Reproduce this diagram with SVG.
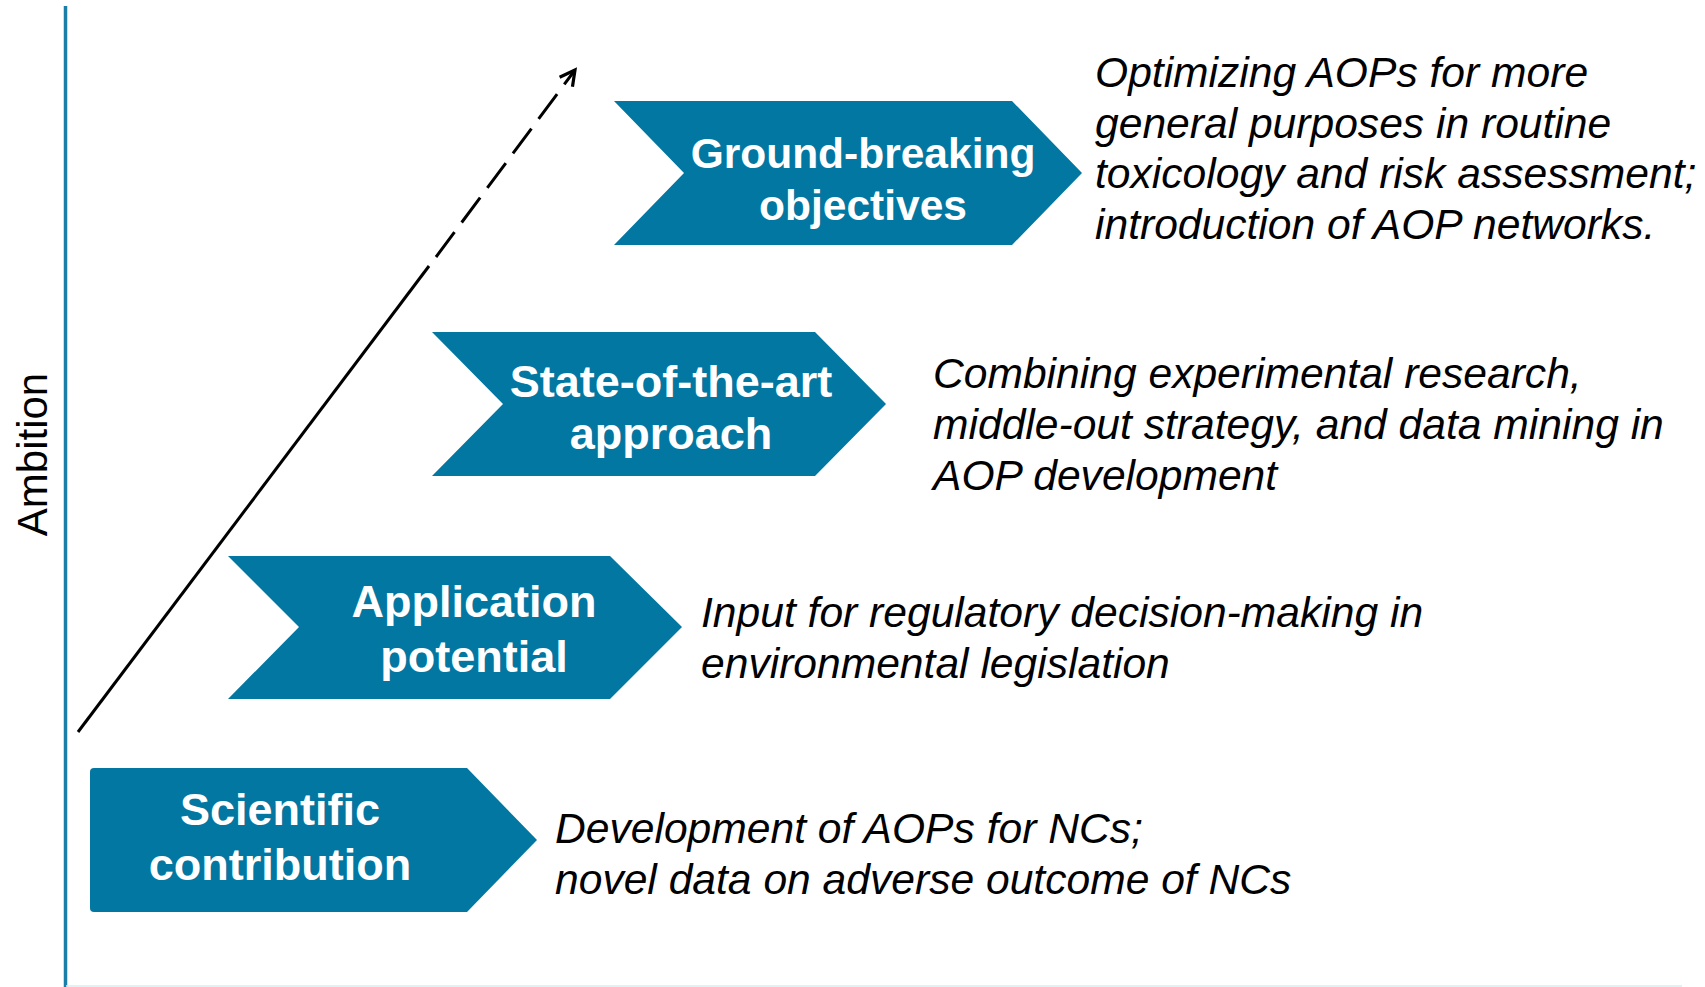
<svg xmlns="http://www.w3.org/2000/svg" width="1705" height="987" viewBox="0 0 1705 987">
  <defs>
    <style>
      .chev { fill: #0277a2; }
      .label { font-family: "Liberation Sans", Arial, sans-serif; font-weight: bold; fill: #ffffff; text-anchor: middle; }
      .desc { font-family: "Liberation Sans", Arial, sans-serif; font-style: italic; font-size: 42.6px; fill: #000000; }
      .axis { font-family: "Liberation Sans", Arial, sans-serif; font-size: 42px; fill: #000000; }
      .trend { fill: none; stroke: #000000; stroke-width: 3; stroke-linecap: butt; }
    </style>
    <marker id="openArrow" viewBox="0 0 20 20" refX="17" refY="10" markerWidth="20" markerHeight="20" markerUnits="userSpaceOnUse" orient="auto">
      <path d="M 2 2 L 17 10 L 2 18" fill="none" stroke="#000000" stroke-width="3.2" stroke-linejoin="miter"/>
    </marker>
  </defs>

  <rect width="1705" height="987" fill="#ffffff"/>

  <!-- axes -->
  <g id="axes">
    <line x1="65.5" y1="6" x2="65.5" y2="987" stroke="#1a7ea9" stroke-width="3.5"/>
    <line x1="66" y1="986" x2="1682" y2="986" stroke="#d6eef3" stroke-width="1.5"/>
    <text class="axis" transform="translate(47,454.5) rotate(-90)" text-anchor="middle">Ambition</text>
  </g>

  <!-- rising ambition arrow: solid lower part, dashed upper part -->
  <g id="connectors">
    <line class="trend" x1="78" y1="732" x2="429" y2="266"/>
    <line class="trend" x1="436" y1="257" x2="575" y2="70" stroke-dasharray="31 12" marker-end="url(#openArrow)"/>
  </g>

  <!-- level 1 -->
  <g id="scientific-contribution">
    <path class="chev" d="M 94 768 L 467 768 L 537 840 L 467 912 L 94 912 Q 90 912 90 908 L 90 772 Q 90 768 94 768 Z"/>
    <text class="label" font-size="45" x="280" y="825">Scientific</text>
    <text class="label" font-size="45" x="280" y="880">contribution</text>
    <text class="desc" x="555" y="843">Development of AOPs for NCs;</text>
    <text class="desc" x="555" y="894">novel data on adverse outcome of NCs</text>
  </g>

  <!-- level 2 -->
  <g id="application-potential">
    <polygon class="chev" points="228,556 610,556 682,627 610,699 228,699 299,627"/>
    <text class="label" font-size="45" x="474" y="617">Application</text>
    <text class="label" font-size="45" x="474" y="672">potential</text>
    <text class="desc" x="701" y="627">Input for regulatory decision-making in</text>
    <text class="desc" x="701" y="678">environmental legislation</text>
  </g>

  <!-- level 3 -->
  <g id="state-of-the-art">
    <polygon class="chev" points="432,332 815,332 886,404 815,476 432,476 503,404"/>
    <text class="label" font-size="45" x="671" y="397">State-of-the-art</text>
    <text class="label" font-size="45" x="671" y="449">approach</text>
    <text class="desc" x="933" y="388">Combining experimental research,</text>
    <text class="desc" x="933" y="439">middle-out strategy, and data mining in</text>
    <text class="desc" x="933" y="490">AOP development</text>
  </g>

  <!-- level 4 -->
  <g id="ground-breaking">
    <polygon class="chev" points="614,101 1012,101 1082,173 1012,245 614,245 684,173"/>
    <text class="label" font-size="42.5" x="863" y="168">Ground-breaking</text>
    <text class="label" font-size="42.5" x="863" y="220">objectives</text>
    <text class="desc" x="1095" y="87">Optimizing AOPs for more</text>
    <text class="desc" x="1095" y="138">general purposes in routine</text>
    <text class="desc" x="1095" y="188">toxicology and risk assessment;</text>
    <text class="desc" x="1095" y="239">introduction of AOP networks.</text>
  </g>
</svg>
